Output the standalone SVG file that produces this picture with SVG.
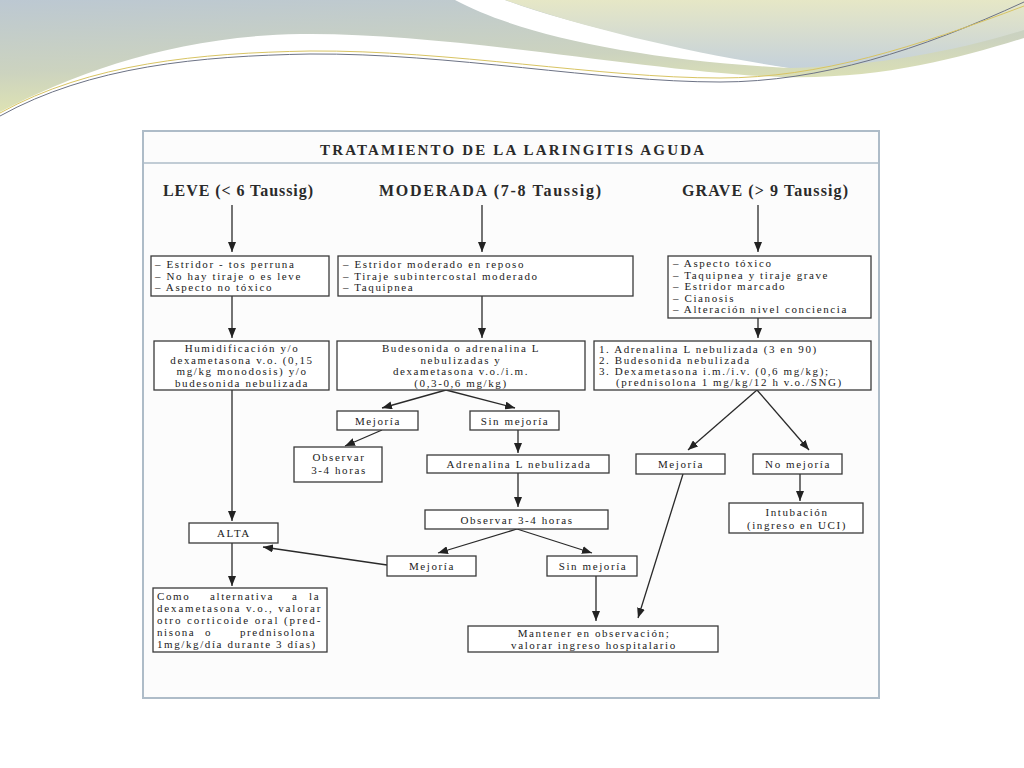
<svg xmlns="http://www.w3.org/2000/svg" width="1024" height="768" viewBox="0 0 1024 768">
<defs>
<linearGradient id="gL" x1="0" y1="0" x2="0.3" y2="1">
<stop offset="0" stop-color="#bcc8d2"/>
<stop offset="0.6" stop-color="#ccd3bf"/>
<stop offset="1" stop-color="#e2e6b0"/>
</linearGradient>
<linearGradient id="gR" x1="0" y1="0" x2="0" y2="1">
<stop offset="0" stop-color="#e6e7c6"/>
<stop offset="1" stop-color="#c5d1da"/>
</linearGradient>
<marker id="ah" markerUnits="userSpaceOnUse" markerWidth="10" markerHeight="8" refX="10" refY="4" orient="auto">
<path d="M0,0 L10,4 L0,8 Z" fill="#222"/>
</marker>
<style>
.box{fill:#fff;stroke:#3a3a3a;stroke-width:1.3}
.t{font-family:"Liberation Serif","Times New Roman",serif;font-size:11px;letter-spacing:1.6px;fill:#222}
.c{text-anchor:middle}
.h{font-family:"Liberation Serif","Times New Roman",serif;font-size:16px;font-weight:bold;fill:#2a2a2a;text-anchor:middle}
.ttl{font-family:"Liberation Serif","Times New Roman",serif;font-size:15px;font-weight:bold;fill:#2a2a2a;text-anchor:middle}
.ln{fill:none;stroke:#2a2a2a;stroke-width:1.3}
.ar{fill:none;stroke:#2a2a2a;stroke-width:1.3;marker-end:url(#ah)}
</style>
</defs>
<rect width="1024" height="768" fill="#ffffff"/>
<g id="decor">
<path d="M0,0 H1024 V38 C960,58 880,80 780,77 C650,72 450,32 300,34 C180,36 80,70 0,112 Z" fill="url(#gL)"/>
<path d="M455,0 C520,35 640,60 790,68 C700,52 580,28 505,0 Z" fill="#ffffff"/>
<path d="M505,0 H1024 V30 C960,50 880,66 790,68 C700,55 590,30 505,0 Z" fill="url(#gR)"/>
<path d="M0,116 C90,66 200,56 310,54 C450,53 600,82 720,82 C820,82 920,50 1024,2" fill="none" stroke="#6d7385" stroke-width="1"/>
<path d="M0,113 C90,63 200,53 310,51 C450,50 600,78 720,78 C820,78 915,47 1024,6" fill="none" stroke="#d8c463" stroke-width="1"/>
</g>
<g id="frame">
<rect x="143" y="131" width="736" height="567" fill="#fcfcfc" stroke="#aebcc8" stroke-width="2"/>
<line x1="143" y1="163" x2="879" y2="163" stroke="#aebcc8" stroke-width="1.5"/>
<text class="ttl" x="512" y="155" textLength="384" lengthAdjust="spacing">TRATAMIENTO DE LA LARINGITIS AGUDA</text>
</g>
<g id="headers">
<text id="h-leve" class="h" x="238" y="196" textLength="150" lengthAdjust="spacing">LEVE (&lt; 6 Taussig)</text>
<text id="h-moderada" class="h" x="490" y="196" textLength="222" lengthAdjust="spacing">MODERADA (7-8 Taussig)</text>
<text id="h-grave" class="h" x="765" y="196" textLength="166" lengthAdjust="spacing">GRAVE (&gt; 9 Taussig)</text>
</g>
<g id="connectors">
<line class="ar" x1="232" y1="205" x2="232" y2="252"/>
<line class="ar" x1="482" y1="205" x2="482" y2="252"/>
<line class="ar" x1="758" y1="205" x2="758" y2="252"/>
<line class="ar" x1="232" y1="296" x2="232" y2="338"/>
<line class="ar" x1="482" y1="296" x2="482" y2="338"/>
<line class="ar" x1="758" y1="318" x2="758" y2="338"/>
<line class="ar" x1="446" y1="390" x2="382" y2="408"/>
<line class="ar" x1="446" y1="390" x2="515" y2="408"/>
<line class="ar" x1="382" y1="430" x2="345" y2="446"/>
<line class="ar" x1="518" y1="430" x2="518" y2="453"/>
<line class="ar" x1="518" y1="473" x2="518" y2="507"/>
<line class="ar" x1="517" y1="529" x2="438" y2="553"/>
<line class="ar" x1="517" y1="529" x2="592" y2="553"/>
<line class="ar" x1="387" y1="565" x2="263" y2="547"/>
<line class="ar" x1="232" y1="390" x2="232" y2="521"/>
<line class="ar" x1="232" y1="543" x2="232" y2="586"/>
<line class="ar" x1="596" y1="576" x2="596" y2="621"/>
<line class="ar" x1="683" y1="474" x2="638" y2="618"/>
<line class="ar" x1="757" y1="390" x2="688" y2="450"/>
<line class="ar" x1="757" y1="390" x2="809" y2="450"/>
<line class="ar" x1="800" y1="474" x2="800" y2="501"/>
</g>
<g id="leve-signos">
<rect class="box" x="151" y="256" width="178" height="40"/>
<text class="t" x="155" y="268">– Estridor - tos perruna</text>
<text class="t" x="155" y="279.5">– No hay tiraje o es leve</text>
<text class="t" x="155" y="291">– Aspecto no tóxico</text>
</g>
<g id="moderada-signos">
<rect class="box" x="338" y="256" width="295" height="40"/>
<text class="t" x="343" y="268">– Estridor moderado en reposo</text>
<text class="t" x="343" y="279.5">– Tiraje subintercostal moderado</text>
<text class="t" x="343" y="291">– Taquipnea</text>
</g>
<g id="grave-signos">
<rect class="box" x="668" y="256" width="203" height="62"/>
<text class="t" x="673" y="267">– Aspecto tóxico</text>
<text class="t" x="673" y="278.5">– Taquipnea y tiraje grave</text>
<text class="t" x="673" y="290">– Estridor marcado</text>
<text class="t" x="673" y="301.5">– Cianosis</text>
<text class="t" x="673" y="313">– Alteración nivel conciencia</text>
</g>
<g id="leve-tratamiento">
<rect class="box" x="154" y="341" width="175" height="49"/>
<text class="t c" x="242" y="352">Humidificación y/o</text>
<text class="t c" x="242" y="363.5">dexametasona v.o. (0,15</text>
<text class="t c" x="242" y="375">mg/kg monodosis) y/o</text>
<text class="t c" x="242" y="386.5">budesonida nebulizada</text>
</g>
<g id="moderada-tratamiento">
<rect class="box" x="337" y="341" width="248" height="49"/>
<text class="t c" x="461" y="352">Budesonida o adrenalina L</text>
<text class="t c" x="461" y="363.5">nebulizadas y</text>
<text class="t c" x="461" y="375">dexametasona v.o./i.m.</text>
<text class="t c" x="461" y="386.5">(0,3-0,6 mg/kg)</text>
</g>
<g id="grave-tratamiento">
<rect class="box" x="594" y="341" width="277" height="49"/>
<text class="t" x="599" y="352.5">1. Adrenalina L nebulizada (3 en 90)</text>
<text class="t" x="599" y="363.5">2. Budesonida nebulizada</text>
<text class="t" x="599" y="374.5">3. Dexametasona i.m./i.v. (0,6 mg/kg);</text>
<text class="t" x="616" y="385.5">(prednisolona 1 mg/kg/12 h v.o./SNG)</text>
</g>
<g id="mod-mejoria">
<rect class="box" x="337" y="411" width="81" height="19"/>
<text class="t c" x="378" y="424.5">Mejoría</text>
</g>
<g id="mod-sin-mejoria">
<rect class="box" x="470" y="411" width="89" height="19"/>
<text class="t c" x="515" y="424.5">Sin mejoría</text>
</g>
<g id="mod-observar">
<rect class="box" x="294" y="447" width="88" height="35"/>
<text class="t c" x="339" y="461">Observar</text>
<text class="t c" x="339" y="474">3-4 horas</text>
</g>
<g id="mod-adrenalina">
<rect class="box" x="427" y="455" width="182" height="18"/>
<text class="t c" x="519" y="468">Adrenalina L nebulizada</text>
</g>
<g id="mod-observar2">
<rect class="box" x="425" y="510" width="183" height="19"/>
<text class="t c" x="517" y="523.5">Observar 3-4 horas</text>
</g>
<g id="mod-mejoria2">
<rect class="box" x="387" y="556" width="89" height="20"/>
<text class="t c" x="432" y="570">Mejoría</text>
</g>
<g id="mod-sin-mejoria2">
<rect class="box" x="547" y="556" width="90" height="20"/>
<text class="t c" x="593" y="570">Sin mejoría</text>
</g>
<g id="alta">
<rect class="box" x="189" y="523" width="89" height="20"/>
<text class="t c" x="234" y="537">ALTA</text>
</g>
<g id="alternativa">
<rect class="box" x="153" y="588" width="174" height="64"/>
<text class="t" y="600"><tspan x="157">Como</tspan><tspan x="210">alternativa</tspan><tspan x="292">a</tspan><tspan x="309">la</tspan></text>
<text class="t" x="157" y="612" textLength="165" lengthAdjust="spacing">dexametasona v.o., valorar</text>
<text class="t" x="157" y="624" textLength="165" lengthAdjust="spacing">otro corticoide oral (pred-</text>
<text class="t" y="636"><tspan x="157">nisona</tspan><tspan x="205">o</tspan><tspan x="240">prednisolona</tspan></text>
<text class="t" x="157" y="648">1mg/kg/día durante 3 días)</text>
</g>
<g id="mantener">
<rect class="box" x="468" y="626" width="250" height="26"/>
<text class="t c" x="594" y="637">Mantener en observación;</text>
<text class="t c" x="594" y="649">valorar ingreso hospitalario</text>
</g>
<g id="grave-mejoria">
<rect class="box" x="636" y="454" width="89" height="20"/>
<text class="t c" x="681" y="468">Mejoría</text>
</g>
<g id="grave-no-mejoria">
<rect class="box" x="753" y="454" width="89" height="20"/>
<text class="t c" x="798" y="468">No mejoría</text>
</g>
<g id="intubacion">
<rect class="box" x="729" y="503" width="134" height="30"/>
<text class="t c" x="797" y="516">Intubación</text>
<text class="t c" x="797" y="528.5">(ingreso en UCI)</text>
</g>
</svg>
